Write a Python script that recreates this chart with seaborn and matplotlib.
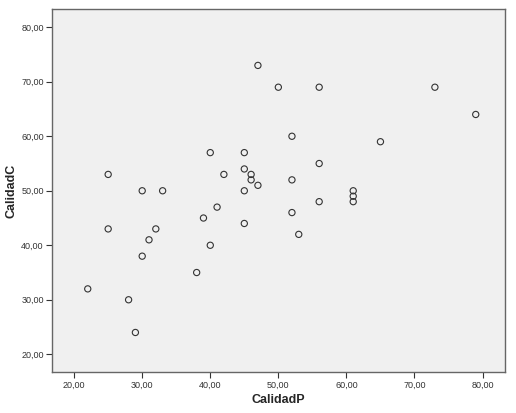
import matplotlib
matplotlib.use("Agg")
import matplotlib.pyplot as plt
import seaborn as sns
import pandas as pd
from matplotlib.ticker import FuncFormatter

# valores (CalidadP vs CalidadC)
calidad_p = [22, 25, 25, 30, 33, 28, 29, 30, 31, 32, 38, 39, 40, 41, 45,
             40, 42, 45, 45, 45, 46, 46, 47, 47, 50, 56, 73, 79, 52, 65,
             56, 52, 56, 61, 61, 61, 52, 53]
calidad_c = [32, 43, 53, 50, 50, 30, 24, 38, 41, 43, 35, 45, 40, 47, 44,
             57, 53, 57, 54, 50, 53, 52, 51, 73, 69, 69, 69, 64, 60, 59,
             55, 52, 48, 50, 49, 48, 46, 42]
ticks = [20, 30, 40, 50, 60, 70, 80]

df = pd.DataFrame({"CalidadP": calidad_p, "CalidadC": calidad_c})

sns.set_style("ticks")
plt.rcParams["font.family"] = ["Liberation Sans", "DejaVu Sans"]

fig = plt.figure(figsize=(5.16, 4.13), dpi=100)
ax = fig.add_axes([0.1008, 0.0993, 0.8779, 0.8789])
ax.set_facecolor("#f0f0f0")

sns.scatterplot(data=df, x="CalidadP", y="CalidadC", ax=ax,
                marker="o", s=20, facecolor="none", edgecolor="#333333",
                linewidth=0.8)

ax.set_xlim(16.75, 83.3)
ax.set_ylim(16.75, 83.35)
ax.set_xticks(ticks)
ax.set_yticks(ticks)
fmt = FuncFormatter(lambda v, p: f"{v:.2f}".replace(".", ","))
ax.xaxis.set_major_formatter(fmt)
ax.yaxis.set_major_formatter(fmt)
ax.tick_params(labelsize=6.5, labelcolor="#333333", length=4, width=0.8,
               color="#333333", pad=2)

for side in ["top", "right", "bottom", "left"]:
    ax.spines[side].set_visible(True)
    ax.spines[side].set_color("#666666")
    ax.spines[side].set_linewidth(1.0)

ax.set_xlabel("CalidadP", fontsize=9, fontweight="bold")
ax.set_ylabel("CalidadC", fontsize=9, fontweight="bold")
ax.xaxis.set_label_coords(0.5, -0.062)
ax.yaxis.set_label_coords(-0.077, 0.5)

fig.savefig("out.png", dpi=100)
